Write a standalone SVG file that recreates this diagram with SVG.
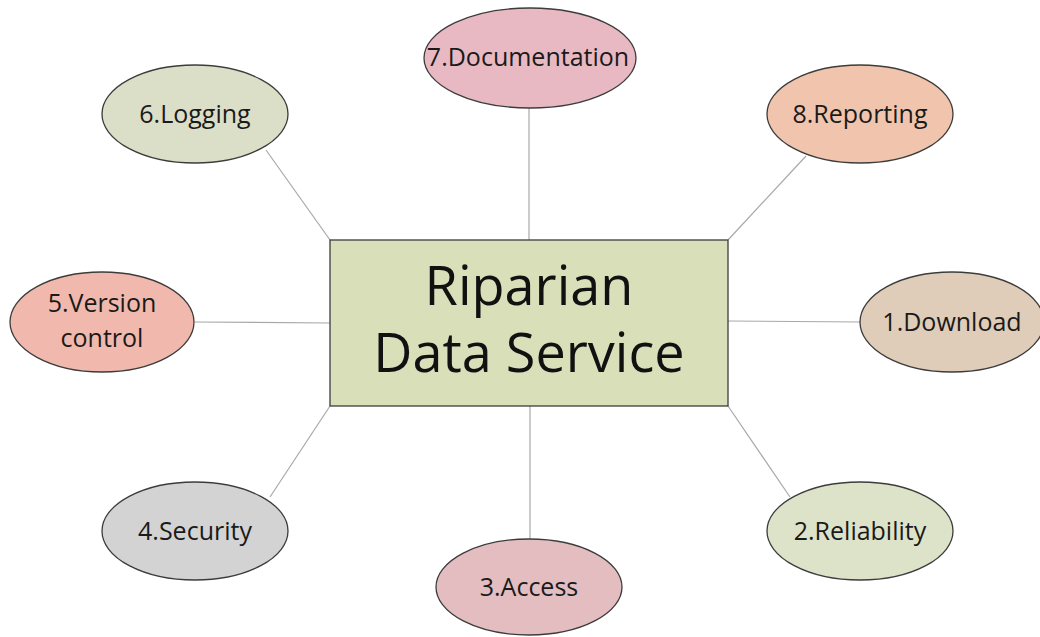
<svg xmlns="http://www.w3.org/2000/svg" width="1040" height="637" viewBox="0 0 1040 637">
<style>
.n{stroke:#3c3c3c;stroke-width:1.3}
.t{font-family:"Open Sans","Noto Sans",sans-serif;font-size:25px;fill:#1a1a1a;text-anchor:middle}
.c{stroke:#a8a8a8;stroke-width:1.2;fill:none}
</style>
<rect width="1040" height="637" fill="#ffffff"/>
<g id="connectors">
<line class="c" x1="529" y1="108" x2="529" y2="240"/>
<line class="c" x1="266" y1="150" x2="330" y2="240"/>
<line class="c" x1="806" y1="156" x2="728" y2="240"/>
<line class="c" x1="195" y1="322" x2="330" y2="323"/>
<line class="c" x1="728" y1="321" x2="860" y2="322"/>
<line class="c" x1="330" y1="406" x2="270" y2="497"/>
<line class="c" x1="728" y1="406" x2="790" y2="497"/>
<line class="c" x1="530" y1="406" x2="530" y2="539"/>
</g>
<g id="center">
<rect class="n" x="330" y="240" width="398" height="166" fill="#d8dfb9"/>
<text font-family="'Open Sans','Noto Sans',sans-serif" font-size="54" fill="#111" text-anchor="middle"><tspan x="529" y="305">Riparian</tspan><tspan x="529" y="372">Data Service</tspan></text>
</g>
<g id="n7"><ellipse class="n" cx="530" cy="58" rx="106" ry="50" fill="#e8b9c3"/><text class="t" x="528" y="66">7.Documentation</text></g>
<g id="n6"><ellipse class="n" cx="195" cy="114" rx="93" ry="49" fill="#dcdfc7"/><text class="t" x="195" y="123">6.Logging</text></g>
<g id="n8"><ellipse class="n" cx="860" cy="114" rx="93" ry="49" fill="#f1c5ad"/><text class="t" x="860" y="123">8.Reporting</text></g>
<g id="n5"><ellipse class="n" cx="102" cy="322" rx="92" ry="50" fill="#f1b9ae"/><text class="t"><tspan x="102" y="312">5.Version</tspan><tspan x="102" y="347">control</tspan></text></g>
<g id="n1"><ellipse class="n" cx="952" cy="322" rx="92" ry="50" fill="#dfcdb9"/><text class="t" x="952" y="331">1.Download</text></g>
<g id="n4"><ellipse class="n" cx="195" cy="531" rx="93" ry="49" fill="#d3d3d3"/><text class="t" x="195" y="540">4.Security</text></g>
<g id="n2"><ellipse class="n" cx="860" cy="531" rx="93" ry="49" fill="#dde3c8"/><text class="t" x="860" y="540">2.Reliability</text></g>
<g id="n3"><ellipse class="n" cx="529" cy="587" rx="93" ry="48" fill="#e4bdc1"/><text class="t" x="529" y="596">3.Access</text></g>
</svg>
